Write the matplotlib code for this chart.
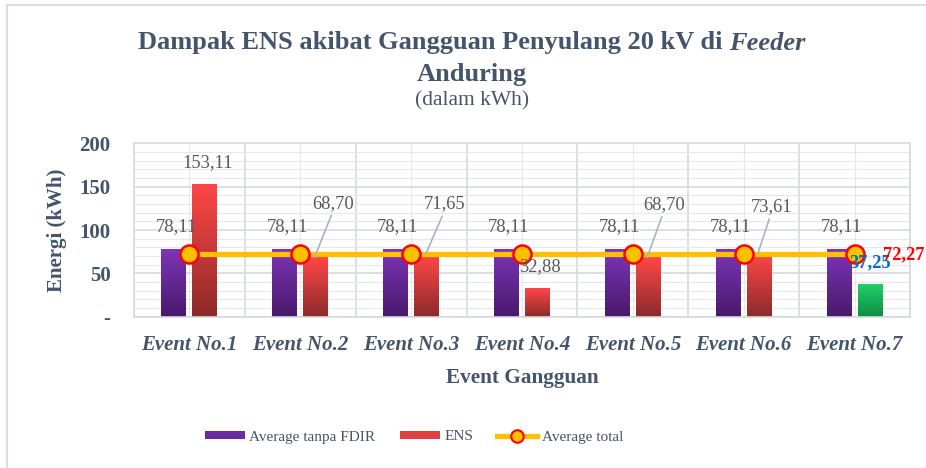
import matplotlib
matplotlib.use("Agg")
import matplotlib.pyplot as plt
import numpy as np
from matplotlib.colors import LinearSegmentedColormap
from matplotlib.patches import Rectangle, Patch
from matplotlib.lines import Line2D
from matplotlib.ticker import MultipleLocator, FixedLocator

categories = ["Event No.1", "Event No.2", "Event No.3", "Event No.4",
              "Event No.5", "Event No.6", "Event No.7"]
avg_tanpa_fdir = [78.11, 78.11, 78.11, 78.11, 78.11, 78.11, 78.11]
ens = [153.11, 68.70, 71.65, 32.88, 68.70, 73.61, 37.25]
avg_total = [72.27, 72.27, 72.27, 72.27, 72.27, 72.27, 72.27]
ens_labels = ["153,11", "68,70", "71,65", "32,88", "68,70", "73,61", "37,25"]
avg_labels = ["78,11"] * 7
yticks = [0, 50, 100, 150, 200]
ytick_labels = ["-", "50", "100", "150", "200"]

SERIF = ["Liberation Serif", "DejaVu Serif"]
plt.rcParams["font.family"] = SERIF
TXT = "#44546A"
LBL = "#595959"

fig = plt.figure(figsize=(9.26, 4.68), dpi=100)
ax = fig.add_axes([134/926, 1-316.5/468, (910-134)/926, (316.5-143.5)/468])

x = np.arange(len(categories))
w = 0.225
off = 0.14

purple_cm = LinearSegmentedColormap.from_list("p", ["#7D35B8", "#48196C"])
red_cm = LinearSegmentedColormap.from_list("r", ["#FF4747", "#8C2A2A"])
green_cm = LinearSegmentedColormap.from_list("g", ["#1FD068", "#0F8C45"])

b1 = ax.bar(x - off, avg_tanpa_fdir, w, color="#6A2B9E", zorder=2)
b2 = ax.bar(x + off, ens, w, color="#E83E3E", zorder=2)

grad = np.linspace(0, 1, 256).reshape(-1, 1)
def fill_grad(bar, cmap):
    bx, by = bar.get_x(), bar.get_y()
    bw, bh = bar.get_width(), bar.get_height()
    ax.imshow(grad, cmap=cmap, aspect="auto", extent=(bx, bx + bw, by, by + bh),
              origin="upper", zorder=2.1, interpolation="bicubic")

for bar in b1:
    fill_grad(bar, purple_cm)
for i, bar in enumerate(b2):
    fill_grad(bar, green_cm if i == len(b2) - 1 else red_cm)

ax.plot(x, avg_total, color="#FFC000", lw=3.8, marker="o", ms=13,
        mfc="#FFC000", mec="#FF0000", mew=1.8, zorder=4, solid_capstyle="butt")

ax.set_xlim(-0.5, len(categories) - 0.5)
ax.set_ylim(0, 200)

# grid
ax.yaxis.set_major_locator(FixedLocator(yticks))
ax.yaxis.set_minor_locator(MultipleLocator(10))
ax.xaxis.set_major_locator(FixedLocator(x))
ax.xaxis.set_minor_locator(FixedLocator(np.arange(-0.5, len(categories), 1.0)))
ax.grid(which="major", axis="y", color="#D5D9DF", lw=1.2, zorder=0)
ax.grid(which="minor", axis="y", color="#E6E8EC", lw=0.8, zorder=0)
ax.grid(which="minor", axis="x", color="#D5D9DF", lw=1.2, zorder=0)
ax.grid(which="major", axis="x", color="#E6E8EC", lw=0.8, zorder=0)
ax.set_axisbelow(True)
for s in ax.spines.values():
    s.set_color("#D5D9DF")
    s.set_linewidth(1.2)

ax.set_yticklabels(ytick_labels, fontsize=15, fontweight="bold", color=TXT)
ax.set_xticklabels(categories, fontsize=15, fontweight="bold", style="italic", color=TXT)
ax.tick_params(which="both", length=0)
ax.tick_params(axis="y", pad=17)
ax.tick_params(axis="x", pad=13)

ax.set_xlabel("Event Gangguan", fontsize=15.3, fontweight="bold", color=TXT, labelpad=10)
ax.set_ylabel("Energi (kWh)", fontsize=15, fontweight="bold", color=TXT, labelpad=9)

# data labels
for i in range(len(categories)):
    ax.text(x[i] - off + 0.02, 103.5, avg_labels[i], ha="center", va="center",
            fontsize=13.3, color=LBL, zorder=5)

ens_pos = [(0.16, 177.5), (0.30, 131), (0.30, 130), (0.16, 57.2),
           (0.28, 129), (0.25, 126.6), (0.14, 62)]
leader = [False, True, True, False, True, True, False]
for i in range(len(categories)):
    dx, ly = ens_pos[i]
    if i == len(categories) - 1:
        ax.text(x[i] + dx, ly, ens_labels[i], ha="center", va="center",
                fontsize=13.3, color="#0070C0", fontweight="bold", zorder=6)
    else:
        ax.text(x[i] + dx, ly, ens_labels[i], ha="center", va="center",
                fontsize=13.3, color=LBL, zorder=5)
    if leader[i]:
        ax.plot([x[i] + 0.13, x[i] + dx - 0.02], [ens[i], ly - 14],
                color="#A9B3C1", lw=1.2, zorder=5)

ax.text(x[-1] + 0.44, 71, "72,27", ha="center", va="center", fontsize=13.3,
        color="#FF0000", fontweight="bold", zorder=6, clip_on=False)

# title
renderer = fig.canvas.get_renderer()
part1 = "Dampak ENS akibat Gangguan Penyulang 20 kV di "
part2 = "Feeder"
ta = fig.text(0, 1-43/468, part1, ha="left", va="center", fontsize=19,
              fontweight="bold", color=TXT)
tb = fig.text(0, 1-43/468, part2, ha="left", va="center", fontsize=19,
              fontweight="bold", style="italic", color=TXT)
wa = ta.get_window_extent(renderer).width
wb = tb.get_window_extent(renderer).width
W = fig.bbox.width
start = 472 - (wa + wb) / 2
ta.set_x(start / W)
tb.set_x((start + wa) / W)
fig.text(472/926, 1-75/468, "Anduring", ha="center", va="center", fontsize=19,
         fontweight="bold", color=TXT)
fig.text(472/926, 1-101/468, "(dalam kWh)", ha="center", va="center", fontsize=15.5,
         color=TXT)

# legend
handles = [Patch(facecolor="#6A2B9E"), Patch(facecolor="#E04040"),
           Line2D([], [], color="#FFC000", lw=3.8, marker="o", ms=9,
                  mfc="#FFC000", mec="#FF0000", mew=1.5)]
fig.legend(handles, ["Average tanpa FDIR", "ENS", "Average total"],
           loc="center", bbox_to_anchor=(414/926, 1-437/468), ncol=3,
           frameon=False, prop={"family": SERIF, "size": 11},
           labelcolor=TXT, handlelength=2.6, handleheight=0.5,
           handletextpad=0.3, columnspacing=1.6)

# outer frame
fig.add_artist(Rectangle((7/926, -0.05), 1.2, 1 - 5/468 + 0.05, transform=fig.transFigure,
                         fill=False, edgecolor="#DADDE2", lw=1.5))

fig.savefig("out.png", dpi=100, facecolor="white")
